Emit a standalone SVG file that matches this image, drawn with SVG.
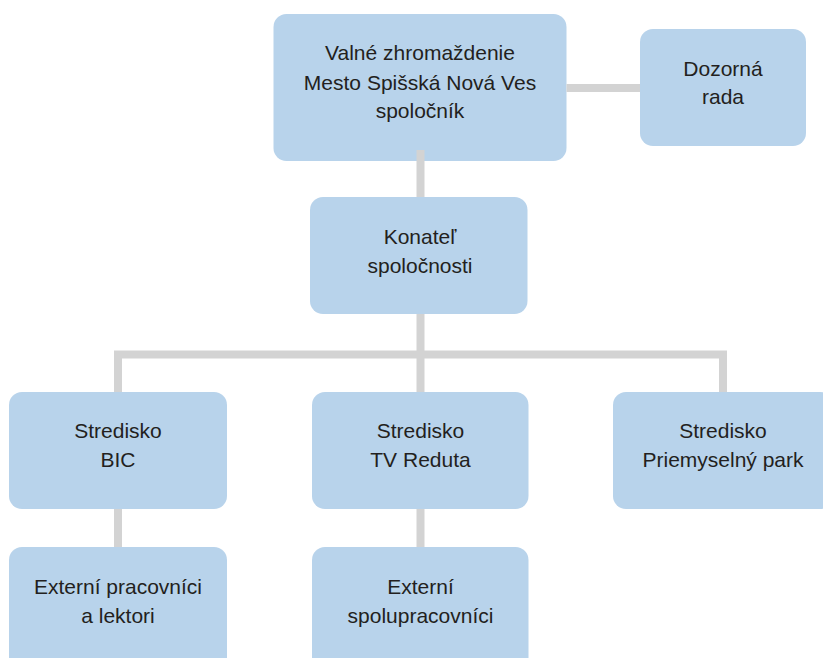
<svg xmlns="http://www.w3.org/2000/svg" width="823" height="658" viewBox="0 0 823 658">
<style>
.box{fill:#b8d3eb;}
.con{stroke:#d3d3d3;stroke-width:8;fill:none;stroke-linecap:butt;}
text{font-family:"Liberation Sans",Arial,sans-serif;font-size:21px;fill:#231f20;text-anchor:middle;}
</style>
<rect width="823" height="658" fill="#ffffff"/>
<g id="valne">
<rect class="box" x="273.5" y="14" width="293" height="147" rx="13"/>
<text x="420" y="60">Valné zhromaždenie</text>
<text x="420" y="90">Mesto Spišská Nová Ves</text>
<text x="420" y="118">spoločník</text>
</g>
<g id="dozorna">
<rect class="box" x="640" y="29" width="166" height="117" rx="13"/>
<text x="723" y="76">Dozorná</text>
<text x="723" y="104">rada</text>
</g>
<g id="konatel">
<rect class="box" x="310" y="197" width="217.5" height="117" rx="13"/>
<text x="420" y="244">Konateľ</text>
<text x="420" y="273">spoločnosti</text>
</g>
<g id="bic">
<rect class="box" x="9" y="392" width="218" height="117" rx="13"/>
<text x="118" y="438">Stredisko</text>
<text x="118" y="467">BIC</text>
</g>
<g id="reduta">
<rect class="box" x="312" y="392" width="216.5" height="117" rx="13"/>
<text x="420.5" y="438">Stredisko</text>
<text x="420.5" y="467">TV Reduta</text>
</g>
<g id="park">
<rect class="box" x="613" y="392" width="220" height="117" rx="13"/>
<text x="723" y="438">Stredisko</text>
<text x="723" y="467">Priemyselný park</text>
</g>
<g id="externi-bic">
<rect class="box" x="9" y="547" width="218" height="130" rx="13"/>
<text x="118" y="594">Externí pracovníci</text>
<text x="118" y="623">a lektori</text>
</g>
<g id="externi-reduta">
<rect class="box" x="312" y="547" width="216.5" height="130" rx="13"/>
<text x="420.5" y="594">Externí</text>
<text x="420.5" y="623">spolupracovníci</text>
</g>
<g id="connectors">
<line class="con" x1="420.5" y1="150" x2="420.5" y2="197"/>
<line class="con" x1="566.5" y1="88" x2="640" y2="88"/>
<line class="con" x1="420.5" y1="314" x2="420.5" y2="354"/>
<polyline class="con" points="118,392 118,354.5 723,354.5 723,392"/>
<line class="con" x1="420.5" y1="354" x2="420.5" y2="392"/>
<line class="con" x1="118" y1="509" x2="118" y2="547"/>
<line class="con" x1="420.5" y1="509" x2="420.5" y2="547"/>
</g>
</svg>
